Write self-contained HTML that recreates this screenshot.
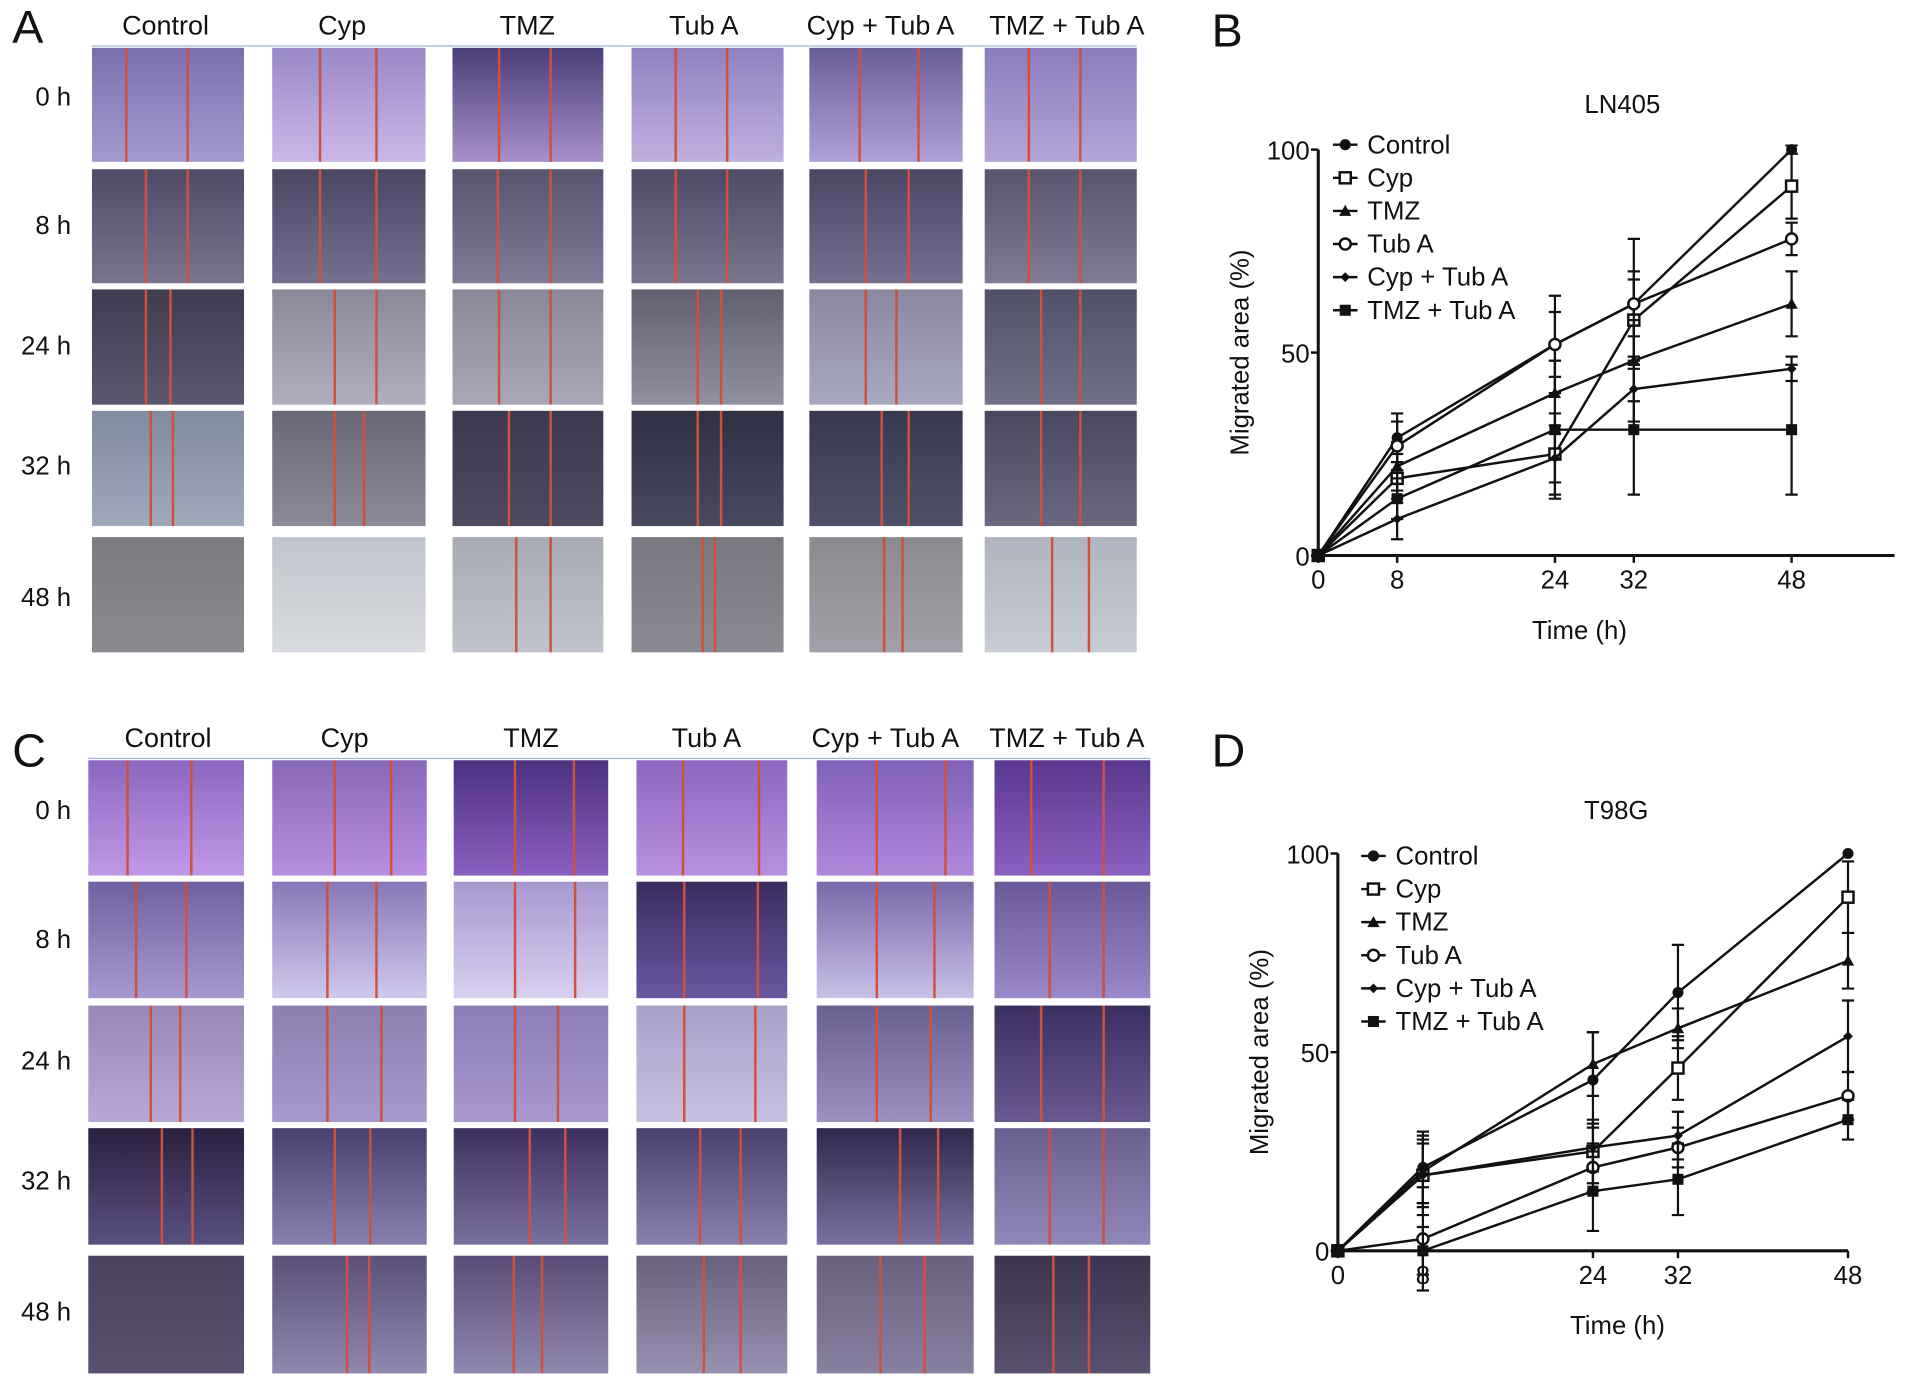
<!DOCTYPE html>
<html><head><meta charset="utf-8"><style>
html,body{margin:0;padding:0;background:#fff;}
body{width:1913px;height:1383px;overflow:hidden;position:relative;font-family:"Liberation Sans",Arial,sans-serif;}
#stage{position:absolute;left:0;top:0;width:1560px;height:1128px;transform:scale(1.22628);transform-origin:0 0;}
.t{position:absolute;color:#111;white-space:nowrap;}
.hdr{font-size:22px;transform:translateX(-50%);}
.rl{font-size:21px;text-align:right;width:50px;transform:translateY(-50%);}
.big{font-size:38px;}
.tile{position:absolute;overflow:hidden;}
.red{position:absolute;top:0;bottom:0;width:2px;background:#d2503a;}
</style></head><body>
<div id="stage">
<div class="t big" style="left:10px;top:2px">A</div>
<div class="t big" style="left:10px;top:592px">C</div>
<div class="t big" style="left:988px;top:5px">B</div>
<div class="t big" style="left:988px;top:592px">D</div>
<div style="position:absolute;left:75px;top:37px;width:852px;height:1px;background:#9ab4d8"></div>
<div style="position:absolute;left:72px;top:618px;width:866px;height:1px;background:#9ab4d8"></div>
<svg id="charts" width="1560" height="1128" style="position:absolute;left:0;top:0"></svg>
</div>
<script>
// ---- chart data ----
const timesH = [0, 8, 24, 32, 48];
const yTicks = [0, 50, 100];
const seriesNames = ["Control", "Cyp", "TMZ", "Tub A", "Cyp + Tub A", "TMZ + Tub A"];
const lnControl = [0, 29, 52, 62, 100];
const lnCyp = [0, 19, 25, 58, 91];
const lnTMZ = [0, 22, 40, 48, 62];
const lnTubA = [0, 27, 52, 62, 78];
const lnCypTubA = [0, 9, 24, 41, 46];
const lnTMZTubA = [0, 14, 31, 31, 31];
const lnErrControl = [0, 6, 12, 16, 1];
const lnErrCyp = [0, 6, 10, 10, 8];
const lnErrTMZ = [0, 6, 8, 10, 8];
const lnErrTubA = [0, 6, 8, 8, 4];
const lnErrCypTubA = [0, 5, 6, 8, 3];
const lnErrTMZTubA = [0, 5, 17, 16, 16];
const tgControl = [0, 21, 43, 65, 100];
const tgCyp = [0, 19, 25, 46, 89];
const tgTMZ = [0, 20, 47, 56, 73];
const tgTubA = [0, 3, 21, 26, 39];
const tgCypTubA = [0, 19, 26, 29, 54];
const tgTMZTubA = [0, 0, 15, 18, 33];
const tgErrControl = [0, 9, 12, 12, 0];
const tgErrCyp = [0, 10, 8, 8, 9];
const tgErrTMZ = [0, 8, 8, 5, 7];
const tgErrTubA = [0, 13, 6, 5, 6];
const tgErrCypTubA = [0, 8, 6, 6, 9];
const tgErrTMZTubA = [0, 6, 10, 9, 5];

const markers = ["dot", "osq", "tri", "ocirc", "plus", "sq"];
const NS = "http://www.w3.org/2000/svg";
const svg = document.getElementById("charts");
function mk(tag, attrs, parent) {
  const e = document.createElementNS(NS, tag);
  for (const k in attrs) e.setAttribute(k, attrs[k]);
  (parent || svg).appendChild(e);
  return e;
}
function marker(g, type, x, y) {
  let m;
  if (type === "dot") m = mk("circle", {cx:x, cy:y, r:4.5, fill:"#111"}, g);
  else if (type === "osq") m = mk("rect", {x:x-4.5, y:y-4.5, width:9, height:9, fill:"#fff", stroke:"#111", "stroke-width":2}, g);
  else if (type === "tri") m = mk("path", {d:`M${x} ${y-5}L${x+5} ${y+4}L${x-5} ${y+4}Z`, fill:"#111"}, g);
  else if (type === "ocirc") m = mk("circle", {cx:x, cy:y, r:4.5, fill:"#fff", stroke:"#111", "stroke-width":2}, g);
  else if (type === "plus") m = mk("path", {d:`M${x} ${y-4}L${x+4} ${y}L${x} ${y+4}L${x-4} ${y}Z`, fill:"#111"}, g);
  else m = mk("rect", {x:x-4.5, y:y-4.5, width:9, height:9, fill:"#111"}, g);
  
  
}
function drawChart(c, series, errs, title, prefix) {
  const g = mk("g", {});
  
  
  const xs = h => c.x0 + (h / 48) * (c.x48 - c.x0);
  const ys = v => c.y0 - (v / 100) * (c.y0 - c.y100);
  const ax = mk("path", {d:`M${c.x0} ${c.y100}V${c.y0}H${c.xEnd}`, stroke:"#111", "stroke-width":2.5, fill:"none"}, g);
  
  
  yTicks.forEach(v => {
    mk("line", {x1:c.x0-6, x2:c.x0, y1:ys(v), y2:ys(v), stroke:"#111", "stroke-width":2}, g);
    const t = mk("text", {x:c.x0-7, y:ys(v)+8, "text-anchor":"end", "font-size":21, fill:"#111"}, g);
    t.textContent = v;
    
    
  });
  timesH.forEach(h => {
    mk("line", {x1:xs(h), x2:xs(h), y1:c.y0, y2:c.y0+6, stroke:"#111", "stroke-width":2}, g);
    const t = mk("text", {x:xs(h), y:c.y0+27, "text-anchor":"middle", "font-size":21, fill:"#111"}, g);
    t.textContent = h;
    
    
  });
  const tt = mk("text", {x:c.titleX, y:c.titleY, "text-anchor":"middle", "font-size":21, fill:"#111"}, g);
  tt.textContent = title;
  
  
  const xl = mk("text", {x:(c.x0+c.x48)/2+20, y:c.y0+68, "text-anchor":"middle", "font-size":21, fill:"#111"}, g);
  xl.textContent = "Time (h)";
  
  
  const yl = mk("text", {x:0, y:0, "text-anchor":"middle", "font-size":21, fill:"#111", transform:`translate(${c.ylX},${(c.y0+c.y100)/2}) rotate(-90)`}, g);
  yl.textContent = "Migrated area (%)";
  
  
  series.forEach((s, i) => {
    const d = s.map((v, j) => (j ? "L" : "M") + xs(timesH[j]) + " " + ys(v)).join("");
    const p = mk("path", {d, stroke:"#111", "stroke-width":2, fill:"none"}, g);
    
    
    s.forEach((v, j) => {
      const e = errs[i][j];
      if (e > 0) {
        const x = xs(timesH[j]);
        const eb = mk("path", {d:`M${x} ${ys(v-e)}V${ys(v+e)}M${x-5} ${ys(v-e)}h10M${x-5} ${ys(v+e)}h10`, stroke:"#111", "stroke-width":1.8, fill:"none"}, g);
        
        
      }
      marker(g, markers[i], xs(timesH[j]), ys(v));
    });
  });
  seriesNames.forEach((n, i) => {
    const y = c.legY + i * c.legDy;
    mk("line", {x1:c.legX-10, x2:c.legX+10, y1:y, y2:y, stroke:"#111", "stroke-width":2}, g);
    marker(g, markers[i], c.legX, y);
    const t = mk("text", {x:c.legX+18, y:y+7, "font-size":21, fill:"#111"}, g);
    t.textContent = n;
    
    
  });
}
drawChart({x0:1075, x48:1461, xEnd:1545, y0:453, y100:122, titleX:1323, titleY:92, ylX:1018, legX:1097, legY:118, legDy:27},
  [lnControl, lnCyp, lnTMZ, lnTubA, lnCypTubA, lnTMZTubA],
  [lnErrControl, lnErrCyp, lnErrTMZ, lnErrTubA, lnErrCypTubA, lnErrTMZTubA], "LN405", "ln405");
drawChart({x0:1091, x48:1507, xEnd:1507, y0:1020, y100:696, titleX:1318, titleY:668, ylX:1034, legX:1120, legY:698, legDy:27},
  [tgControl, tgCyp, tgTMZ, tgTubA, tgCypTubA, tgTMZTubA],
  [tgErrControl, tgErrCyp, tgErrTMZ, tgErrTubA, tgErrCypTubA, tgErrTMZTubA], "T98G", "t98g");

// ---- micrograph panels ----
const colNames = ["Control", "Cyp", "TMZ", "Tub A", "Cyp + Tub A", "TMZ + Tub A"];
const rowNames = ["0 h", "8 h", "24 h", "32 h", "48 h"];
const stage = document.getElementById("stage");
function div(cls, style, text, name) {
  const d = document.createElement("div");
  d.className = cls; d.style.cssText = style;
  if (text) d.textContent = text;
  
  
  stage.appendChild(d);
  return d;
}
function panel(p) {
  colNames.forEach((n, i) => div("t hdr", `left:${p.hdrX[i]}px;top:${p.hdrY}px`, n, "column-header"));
  rowNames.forEach((n, r) => div("t rl", `left:8px;top:${p.rowLabY[r]}px`, n, "row-label"));
  for (let r = 0; r < 5; r++) for (let c = 0; c < 6; c++) {
    const [x1, x2] = p.cols[c], [y1, y2] = p.rows[r];
    const col = p.colors[r][c];
    const t = div("tile", `left:${x1}px;top:${y1}px;width:${x2-x1}px;height:${y2-y1}px;background:linear-gradient(${col[0]},${col[1]})`, "", "micrograph-tile");
    const ln = p.lines[r][c];
    ln.forEach(lx => {
      const rd = document.createElement("div");
      rd.className = "red"; rd.style.left = (lx - x1) + "px";
      
      
      t.appendChild(rd);
    });
  }
}
panel({
  hdrX:[135,279,430,574,718,870], hdrY:8,
  rowLabY:[80,185,283,381,488],
  cols:[[75,199],[222,347],[369,492],[515,639],[660,785],[803,927]],
  rows:[[39,132],[138,231],[236,330],[335,429],[438,532]],
  colors:[
    [["#7a70b0","#a49ad0"],["#9a88c8","#cbb8e8"],["#4a3e78","#a890cc"],["#9080c0","#c0b0e0"],["#6a5e98","#b0a0d8"],["#8a7cbc","#b4a4d8"]],
    [["#4e4a68","#7a7490"],["#4a4664","#767090"],["#585470","#807a96"],["#4e4a68","#7a7490"],["#4a4664","#767090"],["#585470","#807a96"]],
    [["#3e3c50","#5a5870"],["#8a8898","#b0aec0"],["#8a8898","#a8a6b8"],["#606070","#9090a0"],["#8a88a0","#a8a8c0"],["#505068","#707088"]],
    [["#808aa0","#a0a8bc"],["#686878","#8a8a98"],["#3c3a50","#4c4a60"],["#303044","#484860"],["#383850","#50506a"],["#4a4860","#6a6880"]],
    [["#7a7a80","#8a8a90"],["#c0c4cc","#d8dce0"],["#a8aab4","#c0c2cc"],["#787880","#8a8a92"],["#8a8a90","#a0a0a8"],["#b0b4c0","#c8ccd4"]]],
  lines:[
    [[102,152],[260,306],[406,448],[550,592],[700,748],[838,880]],
    [[118,152],[260,306],[405,448],[550,592],[705,740],[838,880]],
    [[118,138],[272,306],[406,448],[568,587],[705,730],[848,880]],
    [[122,140],[272,296],[414,448],[568,587],[718,740],[848,880]],
    [[],[],[420,448],[572,582],[720,735],[857,887]]]
});
panel({
  hdrX:[137,281,433,576,722,870], hdrY:589,
  rowLabY:[662,767,866,964,1071],
  cols:[[72,199],[222,348],[370,496],[519,642],[666,794],[811,938]],
  rows:[[620,714],[719,814],[820,915],[920,1015],[1024,1120]],
  colors:[
    [["#8a68c0","#c098e8"],["#8868b8","#b88ee0"],["#4c3080","#8a60c0"],["#8a68c0","#b890e0"],["#8060b8","#b088dc"],["#5a3890","#8a60c0"]],
    [["#7060a0","#a898d0"],["#8878b8","#d0c8ec"],["#a898d0","#d8d0f0"],["#3a2c60","#6a58a0"],["#7a68a8","#c8c0e8"],["#6a5898","#9a88c8"]],
    [["#9888b8","#b8a8d8"],["#8c80b0","#a898cc"],["#8c7cb8","#a898cc"],["#a8a0c8","#c8c0e0"],["#6a6090","#9c90c0"],["#3a3060","#6a5890"]],
    [["#2a2040","#5a5080"],["#4a4070","#8a80b0"],["#3c3060","#7a70a0"],["#4a4070","#8a80b0"],["#30284c","#7a70a0"],["#6a6090","#9088b8"]],
    [["#4a4060","#5a5070"],["#5a5078","#9088b0"],["#5a4c78","#9088b0"],["#6a6080","#9890b0"],["#6a6080","#8880a0"],["#3c3450","#5a5070"]]],
  lines:[
    [[103,155],[272,318],[419,467],[556,618],[714,770],[840,899]],
    [[110,151],[266,306],[419,468],[557,617],[714,761],[855,899]],
    [[122,146],[266,310],[419,454],[557,615],[714,758],[848,899]],
    [[131,156],[272,301],[431,460],[570,603],[733,764],[855,899]],
    [[],[282,300],[418,441],[573,603],[717,753],[858,887]]]
});
</script>
</body></html>
